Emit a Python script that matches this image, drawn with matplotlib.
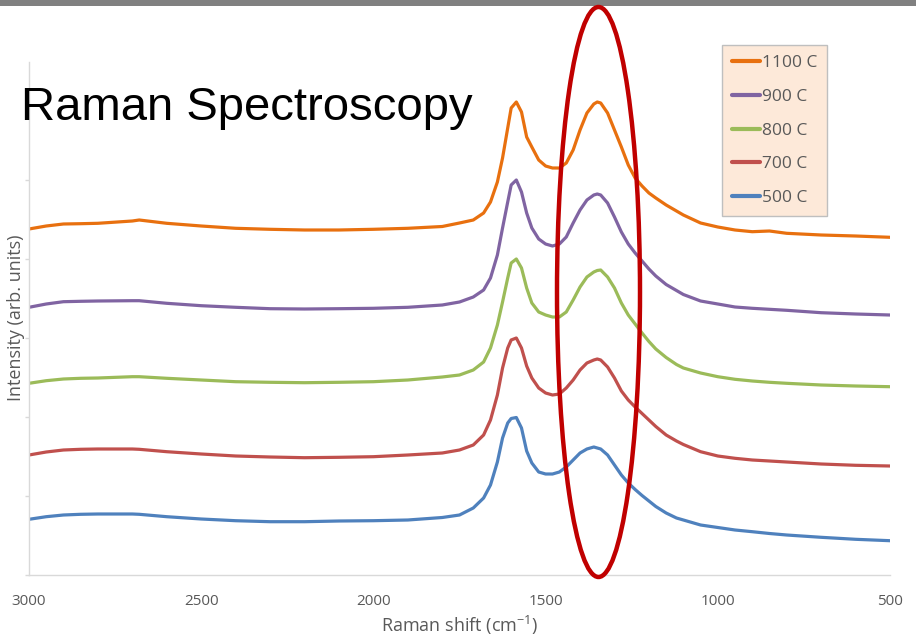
import numpy as np
import matplotlib
matplotlib.use('Agg')
import matplotlib.pyplot as plt
from matplotlib.patches import Ellipse, Rectangle

# Raman shift grid (cm-1) shared by all spectra
SHIFT = [3000, 2950, 2900, 2850, 2800, 2700, 2680, 2600, 2500, 2400,
         2300, 2200, 2100, 2000, 1900, 1800, 1750, 1710, 1680, 1660,
         1640, 1625, 1610, 1600, 1585, 1570, 1555, 1540, 1520, 1500,
         1480, 1460, 1440, 1420, 1400, 1380, 1360, 1350, 1340, 1320,
         1300, 1280, 1260, 1240, 1220, 1200, 1180, 1150, 1120, 1100,
         1050, 1000, 950, 900, 850, 800, 700, 600, 500]

# stacked intensities (arb. units)
I_1100 = [346, 349, 351, 351.3, 351.7, 354, 355, 351.7, 349, 346.7,
          345.7, 345, 345, 345.7, 346.7, 348.5, 352, 355, 362, 373,
          393, 417, 447, 467, 473, 463, 438, 428, 415, 409,
          407, 407, 412, 425, 445, 462, 471, 473, 472, 462,
          445, 428, 410, 397, 389, 382, 377, 370, 364, 360,
          352, 348, 345, 343.3, 344, 341.7, 340, 339, 337.7]
I_900 = [267.7, 271, 273.3, 273.7, 274, 274.3, 274.3, 271.7, 269.3, 267.7,
         266.3, 266, 266.3, 266.7, 267.7, 270, 273, 278, 285, 297,
         320, 347, 373, 390, 395, 383, 362, 347, 336, 331,
         329, 331, 338, 352, 365, 375, 380, 381, 380, 372,
         358, 343, 331, 322, 314, 306, 299, 290.5, 284.5, 280.5,
         274, 271, 268, 266.7, 265.7, 264.7, 262.3, 261, 260]
I_800 = [191.7, 194.3, 196, 196.7, 197, 198.3, 198.3, 196.7, 195, 193.3,
         192.7, 192.3, 192.7, 193.3, 195, 198, 200, 205, 213, 227,
         250, 273, 297, 312, 316, 307, 287, 272, 263, 260,
         258, 258, 263, 275, 288, 298, 303, 304.5, 305, 298,
         287, 272, 260, 251, 242, 233.5, 226, 217.5, 210.5, 207,
         202, 198.3, 195.7, 194, 192.7, 191.7, 190, 189, 188.3]
I_700 = [120, 123, 125, 125.7, 126, 126, 125.7, 123.3, 121, 119,
         118, 117.3, 117.7, 118.3, 120, 122, 125, 130, 140, 155,
         180, 207, 227, 235, 237, 227, 209, 197, 187, 182,
         180, 181, 187, 195, 205, 212, 215, 216, 215, 208,
         197, 184, 175, 168, 161.5, 155, 148.5, 140, 134, 130.5,
         123.3, 119, 116.7, 115, 114, 113, 111, 109.7, 109]
I_500 = [55.7, 58.3, 60, 60.7, 61, 61, 60.7, 58.3, 56, 54.3,
         53.3, 53.3, 54, 54.3, 55, 57.5, 60, 67, 77, 90,
         113, 137, 152, 156.5, 157.5, 147, 124, 112, 103, 101,
         101, 103, 108, 115, 122, 126, 128, 127, 126, 120,
         110, 100, 92, 85.5, 79.5, 74, 68.5, 62, 57, 55,
         50, 47.5, 45, 43.3, 41.5, 40, 37.7, 35.7, 34.3]

LABELS = ['1100 C', '900 C', '800 C', '700 C', '500 C']
COLORS = ['#E8700F', '#8064A2', '#9BBB59', '#C0504D', '#4F81BD']
SERIES = [I_1100, I_900, I_800, I_700, I_500]

XTICKS = [3000, 2500, 2000, 1500, 1000, 500]
Y_MAX = 513
Y_STEP = 79

GREY_TXT = '#595959'
AXIS_CLR = '#D9D9D9'

plt.rcParams['font.family'] = ['Open Sans', 'DejaVu Sans']
plt.rcParams['mathtext.fontset'] = 'custom'
plt.rcParams['mathtext.rm'] = 'Open Sans'
plt.rcParams['mathtext.it'] = 'Open Sans'

W, H = 916, 637
fig = plt.figure(figsize=(W / 100, H / 100), dpi=100)
ax = fig.add_axes([29 / W, 1 - 575 / H, (890 - 29) / W, (575 - 62) / H])

for y, lab, col in zip(SERIES, LABELS, COLORS):
    ax.plot(SHIFT, y, color=col, lw=2.3, label=lab,
            solid_joinstyle='round', solid_capstyle='round')

ax.set_xlim(3000, 500)
ax.set_ylim(0, Y_MAX)
ax.set_xticks(XTICKS)
ax.set_xticklabels([str(t) for t in XTICKS])
ax.set_yticks(np.arange(0, Y_MAX, Y_STEP))
ax.set_yticklabels([])

for s in ['top', 'right']:
    ax.spines[s].set_visible(False)
for s in ['left', 'bottom']:
    ax.spines[s].set_color(AXIS_CLR)
    ax.spines[s].set_linewidth(1)

ax.tick_params(axis='x', length=0, pad=14, labelsize=11, labelcolor=GREY_TXT)
ax.tick_params(axis='y', length=3, width=1, color=AXIS_CLR, direction='out')

# axis titles
fig.text(459.5 / W, 1 - 632 / H, 'Raman shift (cm$^{-1}$)', ha='center',
         va='baseline', fontsize=13, color=GREY_TXT)
fig.text(16 / W, 1 - 318 / H, 'Intensity (arb. units)', rotation=90,
         ha='center', va='center', fontsize=13, color=GREY_TXT)

# slide title
fig.text(21 / W, 1 - 119.5 / H, 'Raman Spectroscopy', family='Liberation Sans',
         fontsize=34, color='black', ha='left', va='baseline')

# grey banner at the very top
fig.patches.append(Rectangle((0, 1 - 6 / H), 1, 6 / H, transform=fig.transFigure,
                             facecolor='#808080', edgecolor='none'))

leg = fig.legend(loc='upper left', bbox_to_anchor=(722 / W, 1 - 45 / H),
                 bbox_transform=fig.transFigure, borderaxespad=0,
                 fontsize=12.5, handlelength=1.6, handletextpad=0.15,
                 labelspacing=1.02, borderpad=0.56, fancybox=False,
                 framealpha=1, facecolor='#FDE9D9', edgecolor='#BFBFBF')
leg.get_frame().set_linewidth(1)
for t in leg.get_texts():
    t.set_color(GREY_TXT)
for h in leg.legend_handles:
    h.set_linewidth(3)

# red ellipse highlighting the D band
fig.patches.append(Ellipse((598.5 / W, 1 - 292 / H), 83 / W, 570 / H,
                           transform=fig.transFigure, fill=False,
                           edgecolor='#C00000', lw=3.2, zorder=10))

fig.savefig('out.png', dpi=100)
